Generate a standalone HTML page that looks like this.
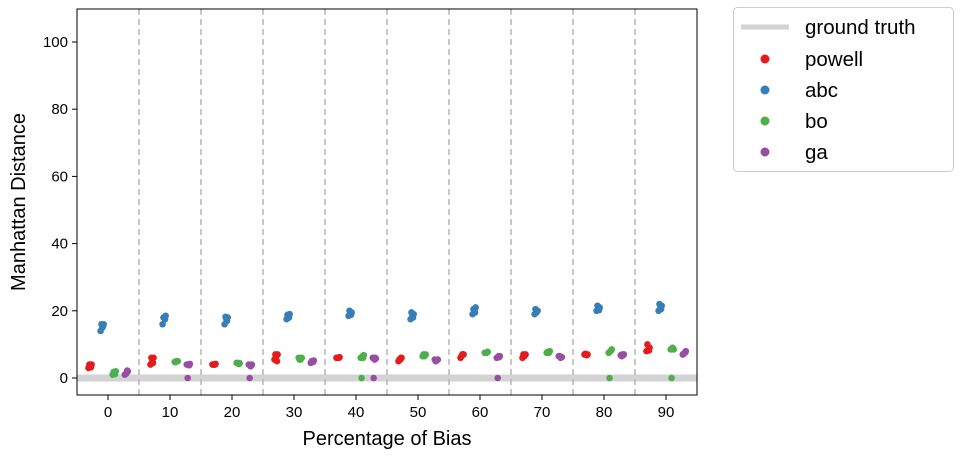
<!DOCTYPE html>
<html><head><meta charset="utf-8"><style>
body{margin:0;background:#fff;font-family:"Liberation Sans",sans-serif}
</style></head><body>
<svg id="c" width="963" height="458" xmlns="http://www.w3.org/2000/svg" font-family="Liberation Sans, sans-serif"></svg>
<script>
const categories=[0,10,20,30,40,50,60,70,80,90];
const seriesNames=["powell","abc","bo","ga"];
const colors=["#e41a1c","#377eb8","#4daf4a","#984ea3"];
const powell=[[3,3.5,4,4,3.2],[4,5,6,6,4.5],[4,4,4.2,4,4],[5.5,6.5,7,7,5],[6,6,6.2,6,6],[5,5.5,6,5.5,6],[6,7,7,6.5,7],[6,6.5,7,7,6.8],[7,7,7,7.2,6.8],[8,8.5,9,10,8.2]];
const abc=[[14,15,16,16,15.5],[16,18,18.5,18,17.5],[16,17.5,18,18.2,17],[17.5,18.5,19,18.8,18],[18.5,19,19.5,20,18.8],[17.5,18.5,19,19.5,18],[19,20,21,20.5,19.5],[19,19.5,20,20.5,20],[20,20.5,21,21.5,20.2],[20,21,21.5,22,20.5]];
const bo=[[1,1.5,2,1.8,1.2],[4.8,5,5,4.7,5],[4.5,4.2,4.4,4.5,4.2],[6,5.5,6,5.5,5.8],[6,6.5,6.8,0,6],[6.5,6.5,7,7,6.8],[7.5,7.5,7.8,7.5,7.6],[7.5,7.5,8,7.8,7.6],[7.5,8,8.5,0,8.2],[8.5,9,8.5,0,8.8]];
const ga=[[1,1.5,2,1.2,2.2],[4,4,4.2,0,3.8],[4,3.5,4,0,3.7],[4.5,5,5.2,5,4.8],[6,5.5,5.8,0,6],[5.5,5.2,5.5,5,5.3],[6,6.5,6.5,0,6.2],[6.5,6,6.2,6.5,6.3],[6.8,7,7,6.5,6.8],[7,7.5,8,7.2,7.6]];
const jitter=[-0.25,0.05,0.25,-0.1,0.15];
const yTicks=[0,20,40,60,80,100];
const allSeries=[powell,abc,bo,ga];
const svg=document.getElementById('c');
const NS="http://www.w3.org/2000/svg";
const L=77,R=697,T=9,B=395;
const x=v=>L+(v+5)/100*(R-L);
const y=v=>378-v*3.36;
function el(t,a,p){const e=document.createElementNS(NS,t);for(const k in a)e.setAttribute(k,a[k]);(p||svg).appendChild(e);return e;}
let g=el('line',{x1:L,x2:R,y1:y(0),y2:y(0),stroke:'#d3d3d3','stroke-width':7});


for(let i=0;i<categories.length-1;i++){
 const xv=(categories[i]+categories[i+1])/2;
 const d=el('line',{x1:x(xv),x2:x(xv),y1:T,y2:B,stroke:'#b5b5b5','stroke-width':1.5,'stroke-dasharray':'6,4'});
 
 
}
allSeries.forEach((s,si)=>{
 const off=-2.9+si*1.95;
 s.forEach((vals,ci)=>{
  vals.forEach((v,k)=>{
   const c=el('circle',{cx:x(categories[ci]+off+jitter[k]),cy:y(v),r:3.3,fill:colors[si]});
   
   
  });
 });
});
let f=el('rect',{x:L,y:T,width:R-L,height:B-T,fill:'none',stroke:'#000','stroke-width':1});


yTicks.forEach(t=>{
 el('line',{x1:L-5,x2:L,y1:y(t),y2:y(t),stroke:'#000'});
 const tx=el('text',{x:L-9,y:y(t)+5,'text-anchor':'end','font-size':15});tx.textContent=t;
 
 
});
categories.forEach(c=>{
 el('line',{x1:x(c),x2:x(c),y1:B,y2:B+5,stroke:'#000'});
 const tx=el('text',{x:x(c),y:B+22,'text-anchor':'middle','font-size':15});tx.textContent=c;
 
 
});
let xt=el('text',{x:(L+R)/2,y:445,'text-anchor':'middle','font-size':20});xt.textContent='Percentage of Bias';


let yt=el('text',{x:0,y:0,'text-anchor':'middle','font-size':20,transform:'translate(25,202) rotate(-90)'});yt.textContent='Manhattan Distance';


let lg=el('rect',{x:733.5,y:7.5,width:220,height:164,rx:4,fill:'#fff',stroke:'#ccc'});


el('line',{x1:741,x2:789,y1:27,y2:27,stroke:'#d3d3d3','stroke-width':5});
let t0=el('text',{x:805,y:34,'font-size':20.5});t0.textContent='ground truth';


seriesNames.forEach((n,i)=>{
 const yy=59+i*31;
 el('circle',{cx:765,cy:yy,r:4.5,fill:colors[i]});
 const t=el('text',{x:805,y:yy+7,'font-size':20.5});t.textContent=n;
 
 
});
</script>
</body></html>
